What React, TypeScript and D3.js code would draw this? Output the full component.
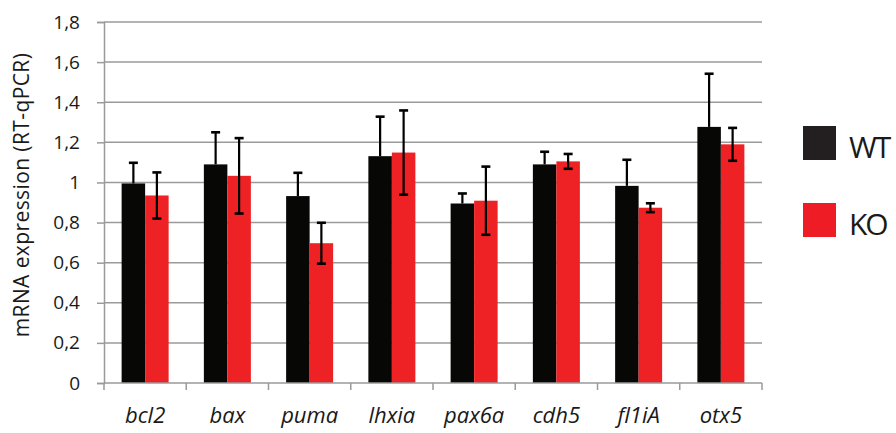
import { useEffect, useRef } from "react";
import * as d3 from "d3";

const genes = ["bcl2", "bax", "puma", "lhxia", "pax6a", "cdh5", "fl1iA", "otx5"];
const groups = ["WT", "KO"];
const wtValues = [0.995, 1.09, 0.932, 1.131, 0.895, 1.09, 0.983, 1.277];
const wtErrors = [0.103, 0.16, 0.116, 0.197, 0.05, 0.063, 0.13, 0.265];
const koValues = [0.935, 1.033, 0.697, 1.149, 0.909, 1.105, 0.874, 1.19];
const koErrors = [0.115, 0.188, 0.102, 0.21, 0.17, 0.037, 0.022, 0.082];
const yTicks = [0, 0.2, 0.4, 0.6, 0.8, 1, 1.2, 1.4, 1.6, 1.8];

const colors: Record<string, string> = { WT: "#070705", KO: "#ee2224" };
const legendColors: Record<string, string> = { WT: "#231f20", KO: "#ee1c24" };

const App = () => {
  const ref = useRef<SVGSVGElement | null>(null);

  useEffect(() => {
    if (!ref.current) return;
    const width = 896;
    const height = 433;
    const plot = { left: 104, right: 762, top: 22, bottom: 383 };
    const font = "'Open Sans', sans-serif";

    const svg = d3.select(ref.current).html("").attr("width", width).attr("height", height);

    const x0 = d3.scaleBand<string>().domain(genes).range([plot.left, plot.right]);
    const x1 = d3.scaleBand<string>().domain(groups).range([0, x0.bandwidth()]).paddingOuter(0.75);
    const y = d3.scaleLinear().domain([0, 1.8]).range([plot.bottom, plot.top]);

    // gridlines
    svg.append("g")
      .selectAll("line")
      .data(yTicks.slice(1))
      .join("line")
      .attr("x1", plot.left)
      .attr("x2", plot.right)
      .attr("y1", (d) => y(d))
      .attr("y2", (d) => y(d))
      .attr("stroke", "#9a9a9a")
      .attr("stroke-width", 1.5);

    // y axis
    const yAxis = svg.append("g")
      .attr("transform", `translate(${plot.left},0)`)
      .call(d3.axisLeft(y).tickValues(yTicks).tickSize(7).tickPadding(17)
        .tickFormat((d) => String(d).replace(".", ",")));
    yAxis.select(".domain").attr("stroke", "#9a9a9a").attr("stroke-width", 1.5);
    yAxis.selectAll(".tick line").attr("stroke", "#9a9a9a").attr("stroke-width", 1.5);
    yAxis.selectAll(".tick text")
      .attr("fill", "#1a1a1a")
      .style("font-family", font)
      .style("font-size", "19px");

    // bars
    const rows = genes.map((g, i) => ({
      gene: g,
      items: [
        { key: "WT", value: wtValues[i], err: wtErrors[i] },
        { key: "KO", value: koValues[i], err: koErrors[i] },
      ],
    }));

    const gGroups = svg.append("g")
      .selectAll("g")
      .data(rows)
      .join("g")
      .attr("transform", (d) => `translate(${x0(d.gene)},0)`);

    gGroups.selectAll("rect")
      .data((d) => d.items)
      .join("rect")
      .attr("x", (d) => x1(d.key)!)
      .attr("width", x1.bandwidth())
      .attr("y", (d) => y(d.value))
      .attr("height", (d) => y(0) - y(d.value))
      .attr("fill", (d) => colors[d.key]);

    // error bars (WT lower half sits on the black bar, so only the upper half shows)
    const capW = 9;
    const cx = (k: string) => x1(k)! + x1.bandwidth() / 2;
    const eb = gGroups.selectAll("g.err")
      .data((d) => d.items)
      .join("g")
      .attr("class", "err")
      .attr("stroke", "#000");
    eb.append("line")
      .attr("x1", (d) => cx(d.key))
      .attr("x2", (d) => cx(d.key))
      .attr("y1", (d) => y(d.key === "WT" ? d.value : d.value - d.err))
      .attr("y2", (d) => y(d.value + d.err))
      .attr("stroke-width", 2.2);
    eb.selectAll("line.cap")
      .data((d) => (d.key === "WT"
        ? [{ key: d.key, v: d.value + d.err }]
        : [{ key: d.key, v: d.value + d.err }, { key: d.key, v: d.value - d.err }]))
      .join("line")
      .attr("class", "cap")
      .attr("x1", (d) => cx(d.key) - capW / 2)
      .attr("x2", (d) => cx(d.key) + capW / 2)
      .attr("y1", (d) => y(d.v))
      .attr("y2", (d) => y(d.v))
      .attr("stroke-width", 2.6);

    // x axis
    const xAxis = svg.append("g").attr("transform", `translate(0,${plot.bottom})`);
    xAxis.append("line")
      .attr("x1", plot.left)
      .attr("x2", plot.right)
      .attr("stroke", "#9a9a9a")
      .attr("stroke-width", 1.5);
    const bounds = genes.map((g) => x0(g)!).concat([plot.right]);
    xAxis.selectAll("line.tk")
      .data(bounds)
      .join("line")
      .attr("class", "tk")
      .attr("x1", (d) => d)
      .attr("x2", (d) => d)
      .attr("y1", 0)
      .attr("y2", 7)
      .attr("stroke", "#9a9a9a")
      .attr("stroke-width", 1.5);
    xAxis.selectAll("text")
      .data(genes)
      .join("text")
      .attr("x", (d) => x0(d)! + x0.bandwidth() / 2)
      .attr("y", 40)
      .attr("text-anchor", "middle")
      .attr("fill", "#1a1a1a")
      .style("font-family", font)
      .style("font-style", "italic")
      .style("font-size", "22px")
      .text((d) => d);

    // y title
    svg.append("text")
      .attr("transform", `translate(29,195) rotate(-90)`)
      .attr("text-anchor", "middle")
      .attr("fill", "#1a1a1a")
      .style("font-family", font)
      .style("font-size", "21px")
      .style("letter-spacing", "0.4px")
      .text("mRNA expression (RT-qPCR)");

    // legend
    const legend = svg.append("g")
      .selectAll("g")
      .data(groups)
      .join("g")
      .attr("transform", (_, i) => `translate(803,${126 + i * 77})`);
    legend.append("rect")
      .attr("width", 33)
      .attr("height", 34)
      .attr("fill", (d) => legendColors[d]);
    legend.append("text")
      .attr("x", 46)
      .attr("y", 32)
      .attr("fill", "#1a1a1a")
      .style("font-family", font)
      .style("font-size", "30px")
      .style("letter-spacing", "-2px")
      .text((d) => d);
  }, []);

  return (
    <div style={{ position: "absolute", left: 0, top: 0 }}>
      <svg ref={ref}></svg>
    </div>
  );
};

export default App;
